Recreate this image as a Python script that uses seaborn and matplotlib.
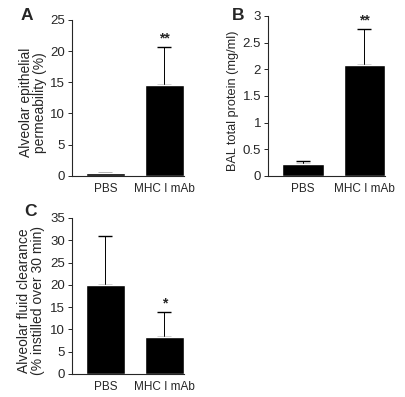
import numpy as np
import seaborn as sns
import matplotlib
matplotlib.use("Agg")
import matplotlib.pyplot as plt

groups = ["PBS", "MHC I mAb"]

# panel A: alveolar epithelial permeability (%)
perm_mean = [0.4, 14.6]
perm_err = [0.1, 6.0]
# panel B: BAL total protein (mg/ml)
prot_mean = [0.23, 2.07]
prot_err = [0.04, 0.69]
# panel C: alveolar fluid clearance
afc_mean = [20.0, 8.2]
afc_err = [11.0, 5.8]

stars_a = ["", "**"]
stars_b = ["", "**"]
stars_c = ["", "*"]

sns.set_style("ticks")
plt.rcParams['font.family'] = ['Liberation Sans', 'DejaVu Sans']

fig = plt.figure(figsize=(4.06, 3.97), dpi=100)
axA = fig.add_axes([0.177, 0.557, 0.276, 0.393])
axB = fig.add_axes([0.660, 0.557, 0.288, 0.403])
axC = fig.add_axes([0.177, 0.058, 0.276, 0.393])


def panel(ax, means, errs, stars, ymax, step, ylabel, letter, lx, ly, labx,
          labsize=10, fmt=None):
    sns.barplot(x=groups, y=means, color="black", saturation=1, width=0.67, ax=ax)
    pos = np.arange(len(means))
    # error bars drawn behind the bars so only the upper half shows
    ax.errorbar(pos, means, yerr=[np.zeros(len(errs)), errs], fmt="none",
                ecolor="black", elinewidth=0.7, capsize=5, capthick=1.0,
                zorder=0.5)
    for p, m, e, s in zip(pos, means, errs, stars):
        if s:
            ax.annotate(s, (p, m + e), xytext=(0, 1), textcoords="offset points",
                        ha="center", va="bottom", fontsize=10, fontweight="bold")
    ax.set_ylim(0, ymax)
    ticks = np.arange(0, ymax + step / 2, step)
    ax.set_yticks(ticks)
    if fmt:
        ax.set_yticklabels([fmt(t) for t in ticks])
    ax.set_xlim(-0.57, 1.335)
    ax.tick_params(axis="x", length=0, labelsize=8.5, pad=5)
    ax.tick_params(axis="y", length=3, width=0.7, labelsize=9.5, pad=2)
    ax.set_ylabel(ylabel, fontsize=labsize, linespacing=1.0)
    box = ax.get_position()
    ax.yaxis.set_label_coords((labx - box.x0 * 406) / (box.width * 406), 0.47)
    ax.yaxis.label.set_va("center")
    for side in ["top", "right"]:
        ax.spines[side].set_visible(False)
    for side in ["left", "bottom"]:
        ax.spines[side].set_linewidth(0.8)
    fig.text(lx / 406, 1 - ly / 397, letter, fontsize=12.5, fontweight="bold",
             ha="center", va="center")


panel(axA, perm_mean, perm_err, stars_a, 25, 5,
      "Alveolar epithelial\npermeability (%)", "A", 27, 15, 33)
panel(axB, prot_mean, prot_err, stars_b, 3, 0.5,
      "BAL total protein (mg/ml)", "B", 238, 15, 233, labsize=9.2,
      fmt=lambda t: f"{t:g}")
panel(axC, afc_mean, afc_err, stars_c, 35, 5,
      "Alveolar fluid clearance\n(% instilled over 30 min)", "C", 31, 211, 31)

fig.savefig("out.png", dpi=100)
